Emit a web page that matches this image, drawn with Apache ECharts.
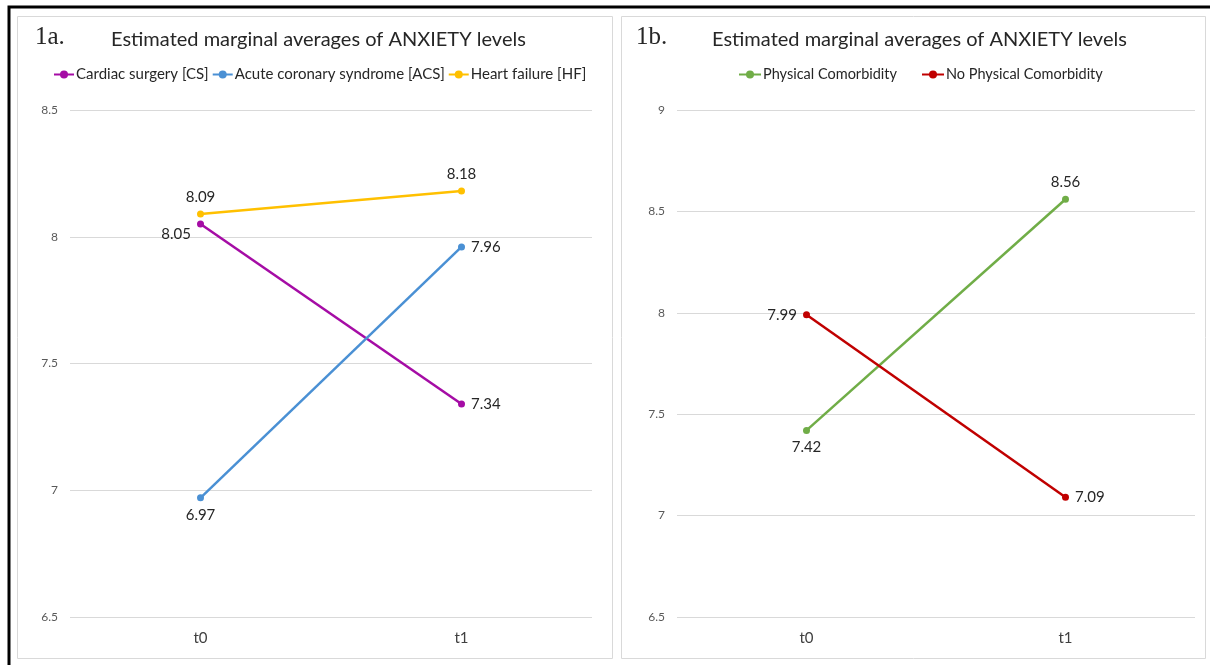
<!DOCTYPE html>
<html><head><meta charset="utf-8">
<script src="https://cdn.jsdelivr.net/npm/echarts@6/dist/echarts.min.js"></script>
<style>html,body{margin:0;padding:0;background:#fff}#c{width:1210px;height:665px}</style>
</head><body><div id="c"></div>
<script>
const categories = ['t0', 't1'];
const csValues = [8.05, 7.34];
const acsValues = [6.97, 7.96];
const hfValues = [8.09, 8.18];
const physValues = [7.42, 8.56];
const noPhysValues = [7.99, 7.09];
const leftTicks = [6.5, 7, 7.5, 8, 8.5];
const rightTicks = [6.5, 7, 7.5, 8, 8.5, 9];

const FONT = 'Lato, "Open Sans", sans-serif';
const chart = echarts.init(document.getElementById('c'));

function yAxis(idx, min, max) {
  return {
    type: 'value', gridIndex: idx, min: min, max: max, interval: 0.5,
    axisLine: {show: false}, axisTick: {show: false},
    splitLine: {lineStyle: {color: '#d9d9d9', width: 1}},
    axisLabel: {color: '#595959', fontSize: 12, fontFamily: FONT, margin: 12,
      formatter: v => String(v)}
  };
}
function xAxis(idx) {
  return {
    type: 'category', gridIndex: idx, data: categories, boundaryGap: true,
    axisLine: {show: false}, axisTick: {show: false},
    axisLabel: {color: '#404040', fontSize: 15, fontFamily: FONT, margin: 14}
  };
}
function lineSeries(name, data, color, idx, positions, offsets) {
  return {
    name: name, type: 'line', xAxisIndex: idx, yAxisIndex: idx,
    data: data.map((v, i) => ({
      value: v,
      label: {position: positions[i], offset: offsets ? offsets[i] : [0, 0]}
    })),
    symbol: 'circle', symbolSize: 7,
    lineStyle: {color: color, width: 2.5},
    itemStyle: {color: color},
    label: {show: true, color: '#262626', fontSize: 15, fontFamily: FONT,
      distance: 6, formatter: p => p.value.toFixed(2)},
    emphasis: {disabled: true}, animation: false
  };
}

chart.setOption({
  animation: false,
  title: [
    {text: 'Estimated marginal averages of ANXIETY levels', left: 106, top: 25,
      textStyle: {fontSize: 20, fontWeight: 'normal', color: '#262626', fontFamily: FONT}},
    {text: 'Estimated marginal averages of ANXIETY levels', left: 707, top: 25,
      textStyle: {fontSize: 20, fontWeight: 'normal', color: '#262626', fontFamily: FONT}}
  ],
  legend: [
    {id: 'legA', data: ['Cardiac surgery [CS]', 'Acute coronary syndrome [ACS]', 'Heart failure [HF]'],
      left: 48, top: 62, itemWidth: 20, itemHeight: 10, itemGap: 3,
      textStyle: {fontSize: 15, color: '#262626', fontFamily: FONT, padding: [0, 0, 0, -3]}},
    {id: 'legB', data: ['Physical Comorbidity', 'No Physical Comorbidity'],
      left: 733, top: 62, itemWidth: 22, itemHeight: 10, itemGap: 24,
      textStyle: {fontSize: 14.5, color: '#262626', fontFamily: FONT, padding: [0, 0, 0, -3]}}
  ],
  grid: [
    {left: 70, right: 618, top: 110, bottom: 48},
    {left: 677, right: 15, top: 110, bottom: 48}
  ],
  xAxis: [xAxis(0), xAxis(1)],
  yAxis: [yAxis(0, 6.5, 8.5), yAxis(1, 6.5, 9)],
  series: [
    lineSeries('Cardiac surgery [CS]', csValues, '#a50ca5', 0, ['left', 'right'], [[0, 10], [0, 0]]),
    lineSeries('Acute coronary syndrome [ACS]', acsValues, '#4a90d4', 0, ['bottom', 'right']),
    lineSeries('Heart failure [HF]', hfValues, '#ffc000', 0, ['top', 'top']),
    lineSeries('Physical Comorbidity', physValues, '#70ad47', 1, ['bottom', 'top']),
    lineSeries('No Physical Comorbidity', noPhysValues, '#c00000', 1, ['left', 'right'])
  ],
  graphic: [
    {type: 'rect', shape: {x: 9, y: 7, width: 1210, height: 680},
      style: {fill: null, stroke: '#000', lineWidth: 3}, silent: true, z: 100},
    {type: 'rect', shape: {x: 17.5, y: 16.5, width: 595, height: 642},
      style: {fill: null, stroke: '#d9d9d9', lineWidth: 1}, silent: true},
    {type: 'rect', shape: {x: 621.5, y: 16.5, width: 584, height: 642},
      style: {fill: null, stroke: '#d9d9d9', lineWidth: 1}, silent: true},
    {type: 'text', left: 35, top: 25,
      style: {text: '1a.', fontSize: 25, fontFamily: '"Liberation Serif", serif', fill: '#262626'}},
    {type: 'text', left: 636, top: 25,
      style: {text: '1b.', fontSize: 25, fontFamily: '"Liberation Serif", serif', fill: '#262626'}}
  ]
});
</script>
</body></html>
